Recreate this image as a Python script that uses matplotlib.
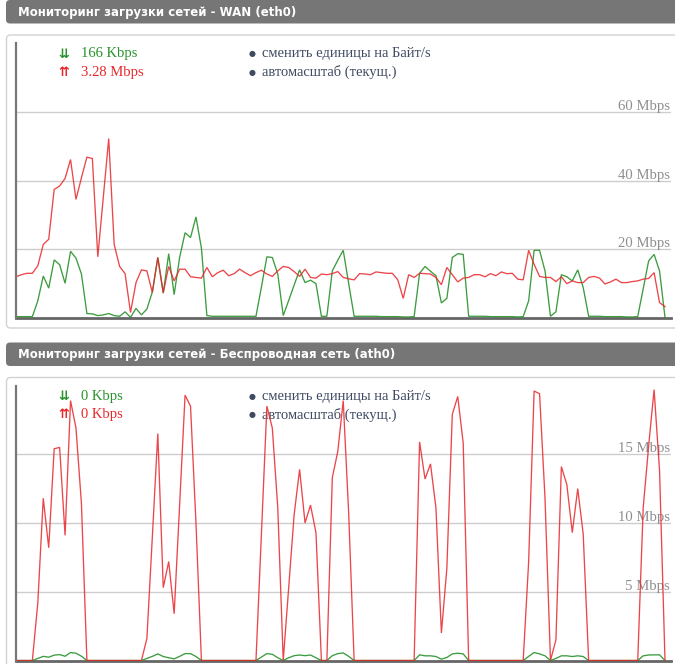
import numpy as np
import matplotlib
matplotlib.use("Agg")
import matplotlib.pyplot as plt
from matplotlib.patches import FancyBboxPatch
from matplotlib.transforms import blended_transform_factory

W, H = 675, 664

wan_title = "Мониторинг загрузки сетей - WAN (eth0)"
wifi_title = "Мониторинг загрузки сетей - Беспроводная сеть (ath0)"
wan_rx_label = "166 Kbps"
wan_tx_label = "3.28 Mbps"
wifi_rx_label = "0 Kbps"
wifi_tx_label = "0 Kbps"
link_labels = ["сменить единицы на Байт/s", "автомасштаб (текущ.)"]
wan_ticks = [20, 40, 60]
wan_tick_labels = ["20 Mbps", "40 Mbps", "60 Mbps"]
wan_ymax = 80
wifi_ticks = [5, 10, 15]
wifi_tick_labels = ["5 Mbps", "10 Mbps", "15 Mbps"]
wifi_ymax = 20

# WAN upload (red), Mbps
wan_tx = [12.0, 12.6, 13.0, 13.0, 15.2, 21.4, 22.9, 37.4, 38.4, 40.6,
          46.1, 34.5, 40.8, 46.8, 46.4, 17.8, 35.0, 52.2, 21.4, 15.0,
          12.9, 1.6, 10.3, 14.0, 13.7, 7.4, 17.6, 7.4, 15.0, 10.8,
          14.2, 14.2, 12.0, 11.8, 11.6, 14.7, 12.0, 13.2, 13.9, 12.3,
          12.9, 14.2, 13.2, 12.3, 13.2, 13.9, 12.8, 12.1, 13.7, 15.0,
          14.7, 13.5, 12.1, 14.2, 11.8, 11.6, 12.8, 12.6, 12.9, 13.5,
          11.8, 11.4, 11.1, 12.9, 12.8, 12.6, 13.4, 13.2, 13.0, 13.0,
          11.1, 5.7, 12.6, 11.8, 13.0, 12.9, 12.8, 11.8, 9.7, 14.7,
          12.6, 10.5, 11.6, 11.8, 12.6, 12.6, 12.0, 12.9, 12.3, 13.4,
          12.9, 13.0, 11.3, 11.1, 19.7, 15.6, 12.1, 11.8, 11.8, 10.6,
          12.0, 10.0, 10.8, 10.3, 10.3, 11.8, 12.1, 11.6, 9.9, 10.5,
          11.3, 10.3, 10.3, 10.6, 10.8, 11.3, 11.5, 13.2, 4.5, 3.28]

# WAN download (green), Mbps
wan_rx = [0.4, 0.4, 0.4, 0.4, 5.0, 12.2, 8.7, 16.9, 15.5, 10.1,
          19.4, 17.4, 12.8, 1.3, 1.2, 0.7, 0.9, 1.3, 0.7, 0.5,
          1.8, 0.2, 2.8, 0.9, 2.6, 7.6, 17.6, 7.2, 18.7, 6.8,
          17.6, 24.8, 23.4, 29.4, 20.3, 0.7, 0.5, 0.5, 0.5, 0.5,
          0.5, 0.5, 0.5, 0.5, 0.5, 9.0, 17.8, 17.6, 12.8, 0.7,
          5.1, 9.6, 14.0, 10.3, 11.0, 10.0, 0.5, 0.5, 13.7, 16.8,
          19.7, 10.0, 0.5, 0.5, 0.5, 0.5, 0.5, 0.4, 0.4, 0.4,
          0.4, 0.3, 0.3, 0.4, 13.0, 15.0, 13.6, 12.3, 4.4, 5.7,
          17.6, 18.7, 18.5, 0.5, 0.5, 0.5, 0.5, 0.4, 0.4, 0.4,
          0.4, 0.4, 0.3, 0.4, 5.0, 19.7, 19.7, 13.7, 0.5, 1.8,
          12.6, 12.0, 10.8, 14.0, 8.9, 0.5, 0.5, 0.5, 0.4, 0.4,
          0.4, 0.4, 0.3, 0.3, 0.4, 8.5, 16.6, 18.5, 13.7, 0.17]

# Wireless upload (red), Mbps
wifi_tx = [0, 0, 0, 0, 4.2, 11.8, 8.2, 15.4, 15.5, 9.1,
           18.9, 16.9, 11.4, 0, 0, 0, 0, 0, 0, 0,
           0, 0, 0, 0, 1.6, 9.0, 16.5, 5.3, 7.2, 3.4,
           11.3, 19.3, 18.5, 10.0, 0, 0, 0, 0, 0, 0,
           0, 0, 0, 0, 0, 9.2, 18.5, 16.9, 11.1, 0,
           5.3, 10.6, 13.9, 10.0, 11.3, 9.3, 0, 0, 13.3, 15.2,
           18.9, 10.7, 0, 0, 0, 0, 0, 0, 0, 0,
           0, 0, 0, 0, 15.9, 13.2, 14.3, 11.1, 2.0, 6.7,
           17.9, 19.2, 15.8, 0, 0, 0, 0, 0, 0, 0,
           0, 0, 0, 0, 7.2, 19.6, 19.4, 11.8, 0, 1.5,
           14.1, 12.8, 9.3, 12.5, 9.2, 0, 0, 0, 0, 0,
           0, 0, 0, 0, 0, 11.1, 15.6, 19.7, 13.8, 0]

# Wireless download (green), Mbps
wifi_rx = [0, 0, 0, 0, 0.15, 0.3, 0.24, 0.39, 0.43, 0.31,
           0.58, 0.53, 0.31, 0, 0, 0, 0, 0, 0, 0,
           0, 0, 0, 0, 0.15, 0.3, 0.48, 0.29, 0.2, 0.12,
           0.3, 0.5, 0.5, 0.29, 0, 0, 0, 0, 0, 0,
           0, 0, 0, 0, 0, 0.25, 0.5, 0.45, 0.2, 0,
           0.2, 0.35, 0.4, 0.35, 0.4, 0.2, 0, 0, 0.35, 0.5,
           0.55, 0.3, 0, 0, 0, 0, 0, 0, 0, 0,
           0, 0, 0, 0, 0.41, 0.34, 0.34, 0.29, 0.1, 0.22,
           0.48, 0.53, 0.48, 0, 0, 0, 0, 0, 0, 0,
           0, 0, 0, 0, 0.3, 0.58, 0.48, 0.34, 0, 0.15,
           0.34, 0.34, 0.29, 0.34, 0.29, 0, 0, 0, 0, 0,
           0, 0, 0, 0, 0, 0.34, 0.4, 0.41, 0.41, 0]

GREEN = "#27912a"
RED = "#e8262b"
LINK = "#3e4a62"
SERIF = ["Liberation Serif", "DejaVu Serif", "DejaVu Sans"]

fig = plt.figure(figsize=(W / 100, H / 100), dpi=100)
fig.patch.set_facecolor("white")


def fx(x):
    return x / W


def fy(y):
    return 1 - y / H


def panel(y0, title, rx, tx, rx_label, tx_label, ymax, ticks, tick_labels):
    # header bar
    fig.add_artist(FancyBboxPatch((fx(6), fy(y0 + 23.5)), fx(700) - fx(6), 23.5 / H,
                                  boxstyle="round,pad=0,rounding_size=0.006",
                                  transform=fig.transFigure, facecolor="#767676",
                                  edgecolor="none", zorder=0.5))
    fig.text(fx(18), fy(y0 + 15.6), title, color="white", fontsize=8.45,
             fontweight="bold", family="DejaVu Sans", va="baseline", zorder=1)
    # chart box
    fig.add_artist(FancyBboxPatch((fx(6.5), fy(y0 + 328)), fx(700) - fx(6.5), (328 - 35) / H,
                                  boxstyle="round,pad=0,rounding_size=0.006",
                                  transform=fig.transFigure, facecolor="white",
                                  edgecolor="#d2d2d2", lw=1.0, zorder=0.5))
    # legend
    fig.text(fx(58.5), fy(y0 + 57.6), "\u21ca", color=GREEN, fontsize=9.3,
             family="DejaVu Sans", fontweight="bold", va="baseline", zorder=1.5)
    fig.text(fx(81), fy(y0 + 57.3), rx_label, color=GREEN, fontsize=10.5,
             family=SERIF, va="baseline", zorder=1.5)
    fig.text(fx(58.5), fy(y0 + 76.0), "\u21c8", color=RED, fontsize=9.3,
             family="DejaVu Sans", fontweight="bold", va="baseline", zorder=1.5)
    fig.text(fx(81), fy(y0 + 75.7), tx_label, color=RED, fontsize=10.5,
             family=SERIF, va="baseline", zorder=1.5)
    for k, lab in enumerate(link_labels):
        yb = y0 + 57.5 + 18.4 * k
        fig.text(fx(249), fy(yb - 1.2), "\u25cf", color=LINK, fontsize=5.8,
                 family="DejaVu Sans", va="baseline", zorder=1.5)
        fig.text(fx(262), fy(yb), lab, color=LINK, fontsize=10.5,
                 family=SERIF, va="baseline", zorder=1.5)

    ax = fig.add_axes([fx(16), fy(y0 + 318), fx(671) - fx(16), 275 / H])
    ax.set_zorder(2)
    ax.patch.set_alpha(0)
    n = len(tx)
    x = np.arange(n)
    ax.set_xlim(0, (671 - 16) / ((665 - 16) / (n - 1)))
    ax.set_ylim(0, ymax)
    for t, lab in zip(ticks, tick_labels):
        ax.axhline(t, color="#cdcdcd", lw=1.0, zorder=0.5)
        ax.text(0.9985, t - ymax * 0.004, lab,
                transform=blended_transform_factory(ax.transAxes, ax.transData),
                ha="right", va="bottom", color="#8f8f8f", fontsize=10.6,
                family=SERIF, zorder=1)
    ax.plot(x, rx, color=GREEN, lw=0.95, alpha=0.9, zorder=2, solid_joinstyle="miter")
    ax.plot(x, tx, color=RED, lw=0.95, alpha=0.85, zorder=2.1, solid_joinstyle="miter")
    ax.set_xticks([])
    ax.set_yticks([])
    for s in ("top", "right"):
        ax.spines[s].set_visible(False)
    ax.spines["left"].set_color("#777777")
    ax.spines["left"].set_linewidth(1.6)
    ax.spines["bottom"].set_color("#666666")
    ax.spines["bottom"].set_linewidth(2.0)
    ax.spines["bottom"].set_zorder(1.5)
    return ax


panel(0, wan_title, wan_rx, wan_tx, wan_rx_label, wan_tx_label,
      wan_ymax, wan_ticks, wan_tick_labels)
panel(342.5, wifi_title, wifi_rx, wifi_tx, wifi_rx_label, wifi_tx_label,
      wifi_ymax, wifi_ticks, wifi_tick_labels)

fig.savefig("out.png", dpi=100, facecolor="white")
